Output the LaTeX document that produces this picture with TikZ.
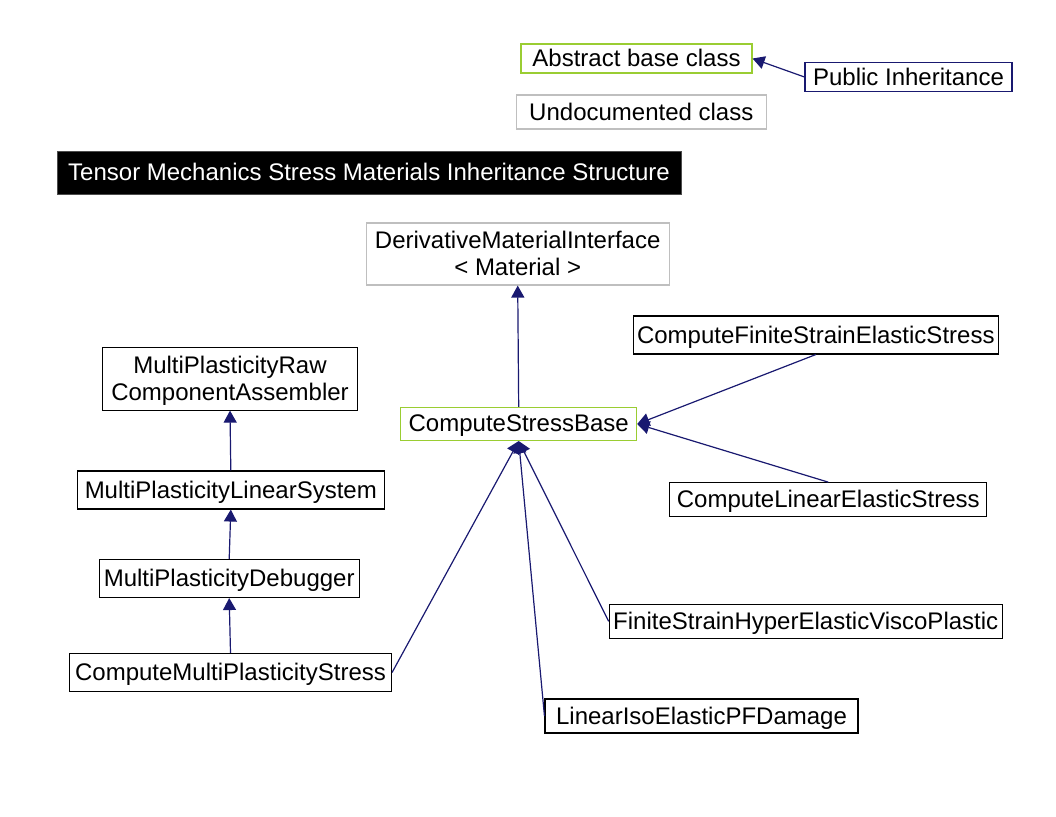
\documentclass[tikz,border=0pt]{standalone}
\usepackage{fontspec}
\setmainfont{Liberation Sans}
\usetikzlibrary{arrows.meta}
\definecolor{edgeblue}{HTML}{191970}
\definecolor{absgreen}{HTML}{9ACD32}
\definecolor{undocgrey}{HTML}{BFBFBF}
\tikzset{
  cls/.style={draw=black, line width=1.1pt, fill=white, inner sep=0pt, align=center,
    font=\fontsize{24}{27}\selectfont, text=black, text depth=1pt},
  absc/.style={cls, draw=absgreen},
  undoc/.style={cls, draw=undocgrey},
  pubc/.style={cls, draw=edgeblue},
  titlebox/.style={fill=black, draw=black!70, text=white, inner sep=0pt, text depth=1pt, font=\fontsize{24}{27}\selectfont},
  inh/.style={draw=edgeblue, line width=1.2pt, -{Triangle[length=12pt,width=13pt]}, color=edgeblue},
}
\begin{document}
\begin{tikzpicture}[x=1pt,y=-1pt]
\useasboundingbox (0,0) rectangle (1056,816);
% legend
\node[absc, minimum width=231pt, minimum height=29pt] (abc) at (636.5,58.5) {Abstract base class};
\node[pubc, minimum width=207pt, minimum height=29pt] (pub) at (908.5,77) {Public Inheritance};
\node[undoc, minimum width=250pt, minimum height=34pt] (und) at (641.3,112) {Undocumented class};
\draw[inh] (pub.west) -- (abc.east);
% title
\node[titlebox, minimum width=624pt, minimum height=43pt] (title) at (369,172.5) {Tensor Mechanics Stress Materials Inheritance Structure};
% classes
\node[undoc, minimum width=303pt, minimum height=62pt] (dmi) at (517.7,254) {DerivativeMaterialInterface\\\textless{} Material \textgreater{}};
\node[absc, minimum width=236pt, minimum height=33pt] (csb) at (518.7,424) {ComputeStressBase};
\node[cls, minimum width=365pt, minimum height=38pt] (cfses) at (815.8,335) {ComputeFiniteStrainElasticStress};
\node[cls, minimum width=317pt, minimum height=34pt] (cles) at (828.3,499.7) {ComputeLinearElasticStress};
\node[cls, minimum width=393pt, minimum height=34pt] (fshevp) at (805.7,621.3) {FiniteStrainHyperElasticViscoPlastic};
\node[cls, minimum width=313pt, minimum height=34pt] (liepfd) at (701.5,716) {LinearIsoElasticPFDamage};
\node[cls, minimum width=255pt, minimum height=62.7pt] (mprca) at (230,378.7) {MultiPlasticityRaw\\ComponentAssembler};
\node[cls, minimum width=307pt, minimum height=38pt] (mpls) at (230.8,490) {MultiPlasticityLinearSystem};
\node[cls, minimum width=260pt, minimum height=38pt] (mpd) at (229.2,578.5) {MultiPlasticityDebugger};
\node[cls, minimum width=322pt, minimum height=38pt] (cmps) at (230.5,672.5) {ComputeMultiPlasticityStress};
% edges
\draw[inh] (csb.north) -- (dmi.south);
\draw[inh] (cfses.south) -- (csb.east);
\draw[inh] (cles.north) -- (csb.east);
\draw[inh] (fshevp.west) -- (csb.south);
\draw[inh] (liepfd.west) -- (csb.south);
\draw[inh] (cmps.east) -- (csb.south);
\draw[inh] (mpls.north) -- (mprca.south);
\draw[inh] (mpd.north) -- (mpls.south);
\draw[inh] (cmps.north) -- (mpd.south);
\end{tikzpicture}
\end{document}
